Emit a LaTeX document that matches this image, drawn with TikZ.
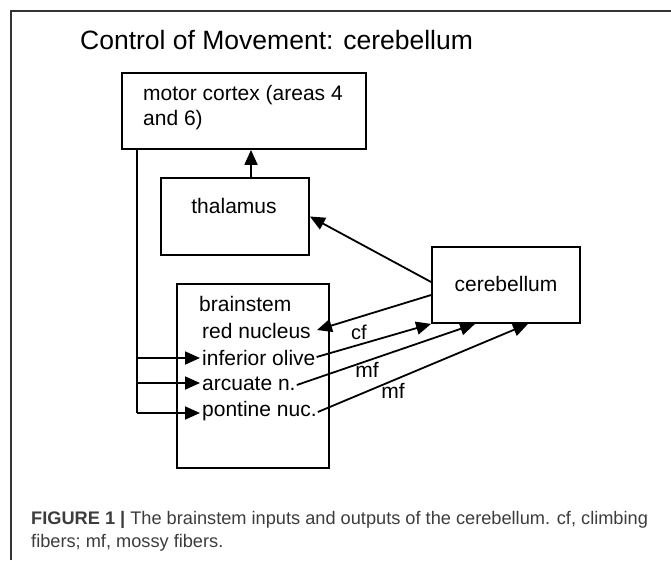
\documentclass[tikz,border=0pt]{standalone}
\usepackage{fontspec}
\setmainfont{Liberation Sans}
\usetikzlibrary{arrows.meta}
\definecolor{capgray}{HTML}{3C3C3C}
\definecolor{framegray}{HTML}{333333}
\tikzset{
  box/.style={draw, line width=1.8pt, inner sep=0pt},
  lbl/.style={font=\fontsize{21}{25}\selectfont, inner sep=0pt},
  arr/.style={line width=1.8pt, -{Triangle[length=15pt,width=13pt]}},
  ln/.style={line width=1.8pt},
  captext/.style={font=\fontsize{18.2}{22}\selectfont, text=capgray, inner sep=0pt, anchor=base west}
}
\begin{document}
\begin{tikzpicture}[x=1pt,y=-1pt]
\useasboundingbox (0,0) rectangle (671,560);
\draw[framegray, line width=1.3pt] (11,560) -- (11,11) -- (671,11);
\node[inner sep=0pt, anchor=base west, font=\fontsize{26.5}{30}\selectfont] (title) at (80,49) {Control of Movement: cerebellum};
% boxes
\node[box, minimum width=244, minimum height=76] (mc) at (244,111) {};
\node[lbl, anchor=base west] (mct1) at (143,100) {motor cortex (areas 4};
\node[lbl, anchor=base west] (mct2) at (143,125) {and 6)};
\node[box, minimum width=148, minimum height=77] (th) at (235,216.5) {};
\node[lbl, anchor=base] (tht) at (234,213) {thalamus};
\node[box, minimum width=148, minimum height=76] (cb) at (506,285) {};
\node[lbl, anchor=base] (cbt) at (506,291) {cerebellum};
\node[box, minimum width=152, minimum height=184] (bs) at (253,376) {};
\node[lbl, anchor=base west] (bst) at (199,311) {brainstem};
\node[lbl, anchor=base west] (rn) at (202,338) {red nucleus};
\node[lbl, anchor=base west] (io) at (202,365) {inferior olive};
\node[lbl, anchor=base west] (an) at (202,390) {arcuate n.};
\node[lbl, anchor=base west] (pn) at (202,416) {pontine nuc.};
% labels
\node[lbl, anchor=base, font=\fontsize{20}{24}\selectfont] (cf) at (359,339) {cf};
\node[lbl, anchor=base] (mf1) at (367,377) {mf};
\node[lbl, anchor=base] (mf2) at (393,398) {mf};
% coordinates
\coordinate (ioin) at ([xshift=-2pt,yshift=7pt]io.base west);
\coordinate (anin) at ([xshift=-2pt,yshift=7pt]an.base west);
\coordinate (pnin) at ([xshift=-2pt,yshift=3pt]pn.base west);
\coordinate (trunk) at (pnin -| 137,0);
\coordinate (ioout) at ([xshift=1pt,yshift=8pt]io.base east);
\coordinate (anout) at ([xshift=1pt,yshift=5pt]an.base east);
\coordinate (pnout) at ([xshift=1pt,yshift=4pt]pn.base east);
\coordinate (rnin) at ([xshift=6pt,yshift=8pt]rn.base east);
% connectors
\draw[arr] ([xshift=16pt]th.north) -- ([xshift=16pt]th.north |- mc.south);
\draw[arr] ([yshift=3pt]cb.west) -- (th.east);
\draw[arr] ([yshift=-10pt]cb.west) -- (rnin);
\draw[ln] (mc.south -| trunk) -- (trunk);
\draw[arr] (trunk |- ioin) -- (ioin);
\draw[arr] (trunk |- anin) -- (anin);
\draw[arr] (trunk) -- (pnin);
\draw[arr] (ioout) -- (cb.south west);
\draw[arr] (anout) -- ([xshift=-31pt]cb.south);
\draw[arr] (pnout) -- ([xshift=22pt]cb.south);
% caption
\node[captext] (cap1) at (31,524) {\textbf{FIGURE 1 |} The brainstem inputs and outputs of the cerebellum. cf, climbing};
\node[captext] (cap2) at (31,547) {fibers; mf, mossy fibers.};
\end{tikzpicture}
\end{document}
